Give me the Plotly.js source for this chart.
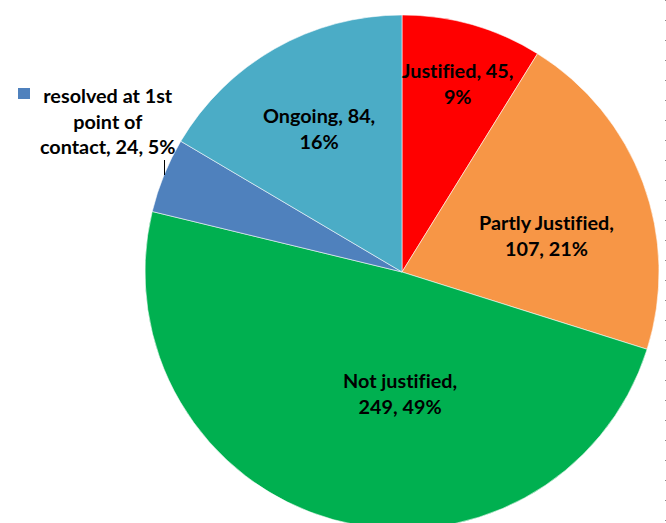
<!DOCTYPE html>
<html>
<head>
<meta charset="utf-8">
<script src="https://cdn.plot.ly/plotly-3.0.1.min.js"></script>
<style>
html, body { margin: 0; padding: 0; overflow: hidden; background: #fff; }
#chart { width: 666px; height: 530px; }
#chart text { font-variant-ligatures: none; font-feature-settings: "liga" 0; }
</style>
</head>
<body>
<div id="chart"></div>
<script>
// ---- data ----
const categories = ["Justified", "Partly Justified", "Not justified", "resolved at 1st point of contact", "Ongoing"];
const values = [45, 107, 249, 24, 84];
const percents = ["9%", "21%", "49%", "5%", "16%"];
const sliceColors = ["#FF0000", "#F79646", "#00B050", "#4F81BD", "#4BACC6"];
// label text as displayed (line breaks as in the original)
const labelTexts = [
  "Justified, 45,<br>9%",
  "Partly Justified,<br>107, 21%",
  "Not justified,<br>249, 49%",
  "resolved at 1st<br>point of<br>contact, 24, 5%",
  "Ongoing, 84,<br>16%"
];

// ---- layout geometry (pixels) ----
const W = 666, H = 530;
const M = { l: 145, r: 7, t: 15, b: 1 };
const PW = W - M.l - M.r, PH = H - M.t - M.b;
const px = x => (x - M.l) / PW;
const py = y => 1 - (y - M.t) / PH;

const labelPos = [[457, 83], [546, 235], [400, 393], [108, 121], [319, 128]];

const annotations = labelTexts.map((t, i) => ({
  text: "<b>" + t + "</b>",
  x: px(labelPos[i][0]), y: py(labelPos[i][1]),
  xref: "paper", yref: "paper",
  xanchor: "center", yanchor: "middle",
  showarrow: false,
  align: "center",
  font: { family: "Lato, 'Liberation Sans', sans-serif", size: 19.8, color: "#000" }
}));

const shapes = [
  // legend key square for the small slice
  { type: "rect", xref: "paper", yref: "paper",
    x0: px(18), x1: px(30), y0: py(99), y1: py(88),
    fillcolor: sliceColors[3], line: { width: 0 } },
  // leader line
  { type: "line", xref: "paper", yref: "paper",
    x0: px(164.5), x1: px(164.5), y0: py(160), y1: py(175),
    line: { color: "#000", width: 1 } },
  // dotted frame edge at right
  { type: "line", xref: "paper", yref: "paper",
    x0: px(665.5), x1: px(665.5), y0: py(0), y1: py(530),
    line: { color: "#8c8c8c", width: 1, dash: "1px,19px" } }
];

const trace = {
  type: "pie",
  labels: categories,
  values: values,
  sort: false,
  direction: "clockwise",
  rotation: 0,
  textinfo: "none",
  hoverinfo: "label+value+percent",
  marker: { colors: sliceColors, line: { color: "rgba(255,255,255,0.7)", width: 0.8 } },
  showlegend: false
};

const layout = {
  width: W, height: H,
  margin: M,
  paper_bgcolor: "#fff",
  showlegend: false,
  annotations: annotations,
  shapes: shapes
};

Plotly.newPlot("chart", [trace], layout, { displayModeBar: false, staticPlot: true });
</script>
</body>
</html>
